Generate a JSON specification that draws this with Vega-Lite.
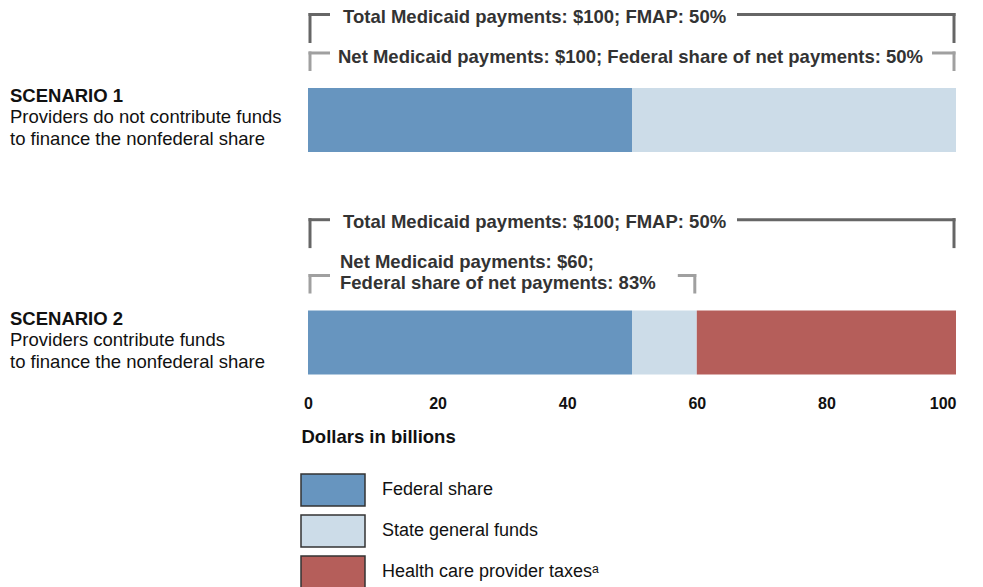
{
  "$schema": "https://vega.github.io/schema/vega-lite/v6.json",
  "width": 648,
  "height": 385,
  "autosize": {"type": "none"},
  "padding": {"left": 308, "top": 0, "right": 27, "bottom": 202},
  "background": "white",
  "config": {
    "view": {"stroke": null},
    "font": "Liberation Sans, Arial, sans-serif",
    "axisX": {
      "domain": false, "ticks": false, "tickSize": 0, "grid": false,
      "labelFontSize": 16, "labelFontWeight": "bold", "labelColor": "#111111",
      "labelPadding": 10, "labelFlush": false,
      "titleFontSize": 18.5, "titleFontWeight": "bold", "titleColor": "#111111",
      "titleAnchor": "start", "titleAlign": "left", "titleBaseline": "alphabetic",
      "titleX": -7, "titleY": 57
    }
  },
  "datasets": {
    "components": [
      {"scenario": "Scenario 1", "component": "Federal share", "value": 50, "ord": 1},
      {"scenario": "Scenario 1", "component": "State general funds", "value": 50, "ord": 2},
      {"scenario": "Scenario 2", "component": "Federal share", "value": 50, "ord": 1},
      {"scenario": "Scenario 2", "component": "State general funds", "value": 10, "ord": 2},
      {"scenario": "Scenario 2", "component": "Health care provider taxesᵃ", "value": 40, "ord": 3}
    ],
    "brackets": [
      {"id": "s1total", "scenario": "Scenario 1", "start": 0, "end": 100, "label": "Total Medicaid payments: $100; FMAP: 50%"},
      {"id": "s1net", "scenario": "Scenario 1", "start": 0, "end": 100, "label": "Net Medicaid payments: $100; Federal share of net payments: 50%"},
      {"id": "s2total", "scenario": "Scenario 2", "start": 0, "end": 100, "label": "Total Medicaid payments: $100; FMAP: 50%"},
      {"id": "s2net", "scenario": "Scenario 2", "start": 0, "end": 60, "label": "Net Medicaid payments: $60;\nFederal share of net payments: 83%"}
    ],
    "scenarios": [
      {"scenario": "Scenario 1", "title": "SCENARIO 1", "desc": "Providers do not contribute funds\nto finance the nonfederal share"},
      {"scenario": "Scenario 2", "title": "SCENARIO 2", "desc": "Providers contribute funds\nto finance the nonfederal share"}
    ]
  },
  "encoding": {
    "y": {
      "field": "scenario", "type": "nominal", "axis": null,
      "scale": {"domain": ["Scenario 1", "Scenario 2"], "paddingInner": 0.7124, "paddingOuter": 0.2213, "align": 0.8934}
    }
  },
  "layer": [
    {
      "data": {"name": "components"},
      "mark": {"type": "bar"},
      "encoding": {
        "x": {"field": "value", "type": "quantitative", "stack": "zero", "title": "Dollars in billions",
              "scale": {"domain": [0, 100], "nice": false},
              "axis": {"values": [0, 20, 40, 60, 80, 100],
                       "labelAlign": {"condition": {"test": "datum.value === 100", "value": "right"}, "value": "center"}}},
        "color": {
          "field": "component", "type": "nominal",
          "scale": {"domain": ["Federal share", "State general funds", "Health care provider taxesᵃ"],
                    "range": ["#6795BF", "#CCDCE8", "#B55E5A"]},
          "legend": {
            "title": null, "orient": "none", "legendX": 8, "legendY": 473,
            "direction": "vertical",
            "symbolType": "M-2,-1H2V1H-2Z", "symbolSize": 1024,
            "symbolStrokeColor": "#333333", "symbolStrokeWidth": 1.5, "symbolOpacity": 1,
            "labelFontSize": 18, "labelColor": "#111111", "labelOffset": 32, "rowPadding": 3, "labelLimit": 400,
            "encode": {"symbols": {"update": {"stroke": {"value": "#333333"}, "strokeWidth": {"value": 1.5}}}}
          }
        },
        "order": {"field": "ord", "type": "quantitative"}
      }
    },

    {"data": {"name": "brackets"}, "transform": [{"filter": "datum.id === 's1total'"}],
     "mark": {"type": "rule", "color": "#666666", "strokeWidth": 3, "yOffset": -105.5, "xOffset": 0.5, "x2Offset": 22},
     "encoding": {"x": {"field": "start", "type": "quantitative", "title": "Dollars in billions"}, "x2": {"field": "start"}}},
    {"data": {"name": "brackets"}, "transform": [{"filter": "datum.id === 's1total'"}],
     "mark": {"type": "rule", "color": "#666666", "strokeWidth": 3, "yOffset": -105.5, "xOffset": -219, "x2Offset": -0.5},
     "encoding": {"x": {"field": "end", "type": "quantitative", "title": "Dollars in billions"}, "x2": {"field": "end"}}},
    {"data": {"name": "brackets"}, "transform": [{"filter": "datum.id === 's1total'"}],
     "mark": {"type": "tick", "color": "#666666", "thickness": 3, "opacity": 1, "yOffset": -92, "xOffset": 2},
     "encoding": {"x": {"field": "start", "type": "quantitative", "title": "Dollars in billions"}, "size": {"value": 30}}},
    {"data": {"name": "brackets"}, "transform": [{"filter": "datum.id === 's1total'"}],
     "mark": {"type": "tick", "color": "#666666", "thickness": 3, "opacity": 1, "yOffset": -92, "xOffset": -2},
     "encoding": {"x": {"field": "end", "type": "quantitative", "title": "Dollars in billions"}, "size": {"value": 30}}},
    {"data": {"name": "brackets"}, "transform": [{"filter": "datum.id === 's1total'"}],
     "mark": {"type": "text", "align": "left", "baseline": "alphabetic", "dx": 35, "dy": -97, "fontSize": 18.5, "fontWeight": "bold", "color": "#333333"},
     "encoding": {"x": {"field": "start", "type": "quantitative", "title": "Dollars in billions"}, "text": {"field": "label"}}},

    {"data": {"name": "brackets"}, "transform": [{"filter": "datum.id === 's2total'"}],
     "mark": {"type": "rule", "color": "#666666", "strokeWidth": 3, "yOffset": -122.8, "xOffset": 0.5, "x2Offset": 22},
     "encoding": {"x": {"field": "start", "type": "quantitative", "title": "Dollars in billions"}, "x2": {"field": "start"}}},
    {"data": {"name": "brackets"}, "transform": [{"filter": "datum.id === 's2total'"}],
     "mark": {"type": "rule", "color": "#666666", "strokeWidth": 3, "yOffset": -122.8, "xOffset": -219, "x2Offset": -0.5},
     "encoding": {"x": {"field": "end", "type": "quantitative", "title": "Dollars in billions"}, "x2": {"field": "end"}}},
    {"data": {"name": "brackets"}, "transform": [{"filter": "datum.id === 's2total'"}],
     "mark": {"type": "tick", "color": "#666666", "thickness": 3, "opacity": 1, "yOffset": -109.4, "xOffset": 2},
     "encoding": {"x": {"field": "start", "type": "quantitative", "title": "Dollars in billions"}, "size": {"value": 30}}},
    {"data": {"name": "brackets"}, "transform": [{"filter": "datum.id === 's2total'"}],
     "mark": {"type": "tick", "color": "#666666", "thickness": 3, "opacity": 1, "yOffset": -109.4, "xOffset": -2},
     "encoding": {"x": {"field": "end", "type": "quantitative", "title": "Dollars in billions"}, "size": {"value": 30}}},
    {"data": {"name": "brackets"}, "transform": [{"filter": "datum.id === 's2total'"}],
     "mark": {"type": "text", "align": "left", "baseline": "alphabetic", "dx": 35, "dy": -114.5, "fontSize": 18.5, "fontWeight": "bold", "color": "#333333"},
     "encoding": {"x": {"field": "start", "type": "quantitative", "title": "Dollars in billions"}, "text": {"field": "label"}}},

    {"data": {"name": "brackets"}, "transform": [{"filter": "datum.id === 's1net' || datum.id === 's2net'"}],
     "mark": {"type": "rule", "color": "#A0A0A0", "strokeWidth": 3, "yOffset": -67, "xOffset": 0.5, "x2Offset": 22},
     "encoding": {"x": {"field": "start", "type": "quantitative", "title": "Dollars in billions"}, "x2": {"field": "start"}}},
    {"data": {"name": "brackets"}, "transform": [{"filter": "datum.id === 's1net'"}],
     "mark": {"type": "rule", "color": "#A0A0A0", "strokeWidth": 3, "yOffset": -67, "xOffset": -24, "x2Offset": -0.5},
     "encoding": {"x": {"field": "end", "type": "quantitative", "title": "Dollars in billions"}, "x2": {"field": "end"}}},
    {"data": {"name": "brackets"}, "transform": [{"filter": "datum.id === 's2net'"}],
     "mark": {"type": "rule", "color": "#A0A0A0", "strokeWidth": 3, "yOffset": -67, "xOffset": -19, "x2Offset": -0.5},
     "encoding": {"x": {"field": "end", "type": "quantitative", "title": "Dollars in billions"}, "x2": {"field": "end"}}},
    {"data": {"name": "brackets"}, "transform": [{"filter": "datum.id === 's1net' || datum.id === 's2net'"}],
     "mark": {"type": "tick", "color": "#A0A0A0", "thickness": 3, "opacity": 1, "yOffset": -58.75, "xOffset": 2},
     "encoding": {"x": {"field": "start", "type": "quantitative", "title": "Dollars in billions"}, "size": {"value": 19.5}}},
    {"data": {"name": "brackets"}, "transform": [{"filter": "datum.id === 's1net' || datum.id === 's2net'"}],
     "mark": {"type": "tick", "color": "#A0A0A0", "thickness": 3, "opacity": 1, "yOffset": -58.75, "xOffset": -2},
     "encoding": {"x": {"field": "end", "type": "quantitative", "title": "Dollars in billions"}, "size": {"value": 19.5}}},
    {"data": {"name": "brackets"}, "transform": [{"filter": "datum.id === 's1net'"}],
     "mark": {"type": "text", "align": "left", "baseline": "alphabetic", "dx": 30, "dy": -57, "fontSize": 18.5, "fontWeight": "bold", "color": "#333333"},
     "encoding": {"x": {"field": "start", "type": "quantitative", "title": "Dollars in billions"}, "text": {"field": "label"}}},
    {"data": {"name": "brackets"}, "transform": [{"filter": "datum.id === 's2net'"}],
     "mark": {"type": "text", "align": "left", "baseline": "alphabetic", "dx": 32, "dy": -74.2, "lineBreak": "\n", "lineHeight": 20.3, "fontSize": 18.5, "fontWeight": "bold", "color": "#333333"},
     "encoding": {"x": {"field": "start", "type": "quantitative", "title": "Dollars in billions"}, "text": {"field": "label"}}},

    {"data": {"name": "scenarios"},
     "mark": {"type": "text", "align": "left", "baseline": "alphabetic", "dx": -298, "dy": -18, "fontSize": 18.5, "fontWeight": "bold", "color": "#111111"},
     "encoding": {"x": {"datum": 0, "type": "quantitative"}, "text": {"field": "title"}}},
    {"data": {"name": "scenarios"},
     "mark": {"type": "text", "align": "left", "baseline": "alphabetic", "dx": -298, "dy": 3.5, "lineBreak": "\n", "lineHeight": 21.7, "fontSize": 18.5, "color": "#111111"},
     "encoding": {"x": {"datum": 0, "type": "quantitative"}, "text": {"field": "desc"}}}
  ]
}
